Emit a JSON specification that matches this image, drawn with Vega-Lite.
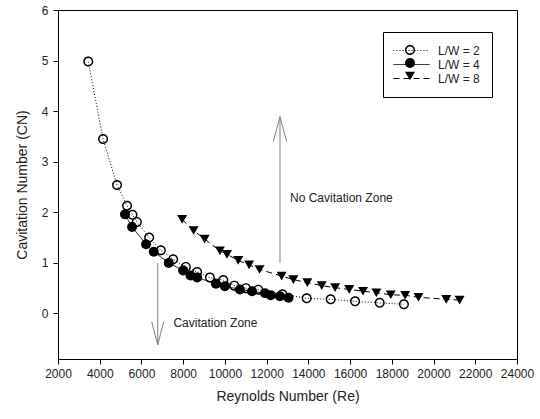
{
  "$schema": "https://vega.github.io/schema/vega-lite/v6.json",
  "width": 459,
  "height": 349,
  "autosize": {"type": "none"},
  "padding": {"left": 58, "top": 10, "right": 23, "bottom": 60},
  "config": {
    "view": {"stroke": "black", "strokeWidth": 1},
    "font": "Liberation Sans",
    "axis": {
      "grid": false,
      "domainColor": "black",
      "tickColor": "black",
      "tickSize": 5,
      "labelFontSize": 12,
      "labelColor": "#222222",
      "titleFontSize": 14,
      "titleFontWeight": "normal",
      "titleColor": "#222222",
      "labelOverlap": false,
      "labelFlush": false
    }
  },
  "datasets": {
    "series": [
      {"Re": 3450, "CN": 4.98, "series": "L/W = 2"},
      {"Re": 4160, "CN": 3.45, "series": "L/W = 2"},
      {"Re": 4830, "CN": 2.54, "series": "L/W = 2"},
      {"Re": 5310, "CN": 2.13, "series": "L/W = 2"},
      {"Re": 5570, "CN": 1.95, "series": "L/W = 2"},
      {"Re": 5780, "CN": 1.81, "series": "L/W = 2"},
      {"Re": 6370, "CN": 1.5, "series": "L/W = 2"},
      {"Re": 6930, "CN": 1.25, "series": "L/W = 2"},
      {"Re": 7520, "CN": 1.07, "series": "L/W = 2"},
      {"Re": 8130, "CN": 0.92, "series": "L/W = 2"},
      {"Re": 8670, "CN": 0.82, "series": "L/W = 2"},
      {"Re": 9280, "CN": 0.71, "series": "L/W = 2"},
      {"Re": 9920, "CN": 0.66, "series": "L/W = 2"},
      {"Re": 10450, "CN": 0.55, "series": "L/W = 2"},
      {"Re": 11010, "CN": 0.5, "series": "L/W = 2"},
      {"Re": 11600, "CN": 0.47, "series": "L/W = 2"},
      {"Re": 12760, "CN": 0.38, "series": "L/W = 2"},
      {"Re": 13920, "CN": 0.3, "series": "L/W = 2"},
      {"Re": 15070, "CN": 0.28, "series": "L/W = 2"},
      {"Re": 16240, "CN": 0.24, "series": "L/W = 2"},
      {"Re": 17420, "CN": 0.21, "series": "L/W = 2"},
      {"Re": 18580, "CN": 0.18, "series": "L/W = 2"},
      {"Re": 5210, "CN": 1.96, "series": "L/W = 4"},
      {"Re": 5550, "CN": 1.71, "series": "L/W = 4"},
      {"Re": 6220, "CN": 1.37, "series": "L/W = 4"},
      {"Re": 6590, "CN": 1.22, "series": "L/W = 4"},
      {"Re": 7310, "CN": 1.0, "series": "L/W = 4"},
      {"Re": 8000, "CN": 0.85, "series": "L/W = 4"},
      {"Re": 8350, "CN": 0.75, "series": "L/W = 4"},
      {"Re": 8670, "CN": 0.71, "series": "L/W = 4"},
      {"Re": 9570, "CN": 0.59, "series": "L/W = 4"},
      {"Re": 10000, "CN": 0.54, "series": "L/W = 4"},
      {"Re": 10720, "CN": 0.475, "series": "L/W = 4"},
      {"Re": 11300, "CN": 0.44, "series": "L/W = 4"},
      {"Re": 11920, "CN": 0.4, "series": "L/W = 4"},
      {"Re": 12200, "CN": 0.36, "series": "L/W = 4"},
      {"Re": 12640, "CN": 0.34, "series": "L/W = 4"},
      {"Re": 13050, "CN": 0.31, "series": "L/W = 4"},
      {"Re": 7950, "CN": 1.86, "series": "L/W = 8"},
      {"Re": 8500, "CN": 1.64, "series": "L/W = 8"},
      {"Re": 9030, "CN": 1.47, "series": "L/W = 8"},
      {"Re": 9760, "CN": 1.24, "series": "L/W = 8"},
      {"Re": 10100, "CN": 1.17, "series": "L/W = 8"},
      {"Re": 10640, "CN": 1.05, "series": "L/W = 8"},
      {"Re": 11160, "CN": 0.96, "series": "L/W = 8"},
      {"Re": 11660, "CN": 0.87, "series": "L/W = 8"},
      {"Re": 12720, "CN": 0.74, "series": "L/W = 8"},
      {"Re": 13280, "CN": 0.67, "series": "L/W = 8"},
      {"Re": 13950, "CN": 0.61, "series": "L/W = 8"},
      {"Re": 14640, "CN": 0.55, "series": "L/W = 8"},
      {"Re": 15280, "CN": 0.51, "series": "L/W = 8"},
      {"Re": 15960, "CN": 0.475, "series": "L/W = 8"},
      {"Re": 16620, "CN": 0.44, "series": "L/W = 8"},
      {"Re": 17260, "CN": 0.41, "series": "L/W = 8"},
      {"Re": 17950, "CN": 0.37, "series": "L/W = 8"},
      {"Re": 18640, "CN": 0.36, "series": "L/W = 8"},
      {"Re": 19280, "CN": 0.32, "series": "L/W = 8"},
      {"Re": 20610, "CN": 0.28, "series": "L/W = 8"},
      {"Re": 21250, "CN": 0.265, "series": "L/W = 8"}
    ],
    "arrows": [
      {"Re": 12640, "CN": 1, "Re2": 12640, "CN2": 3.89},
      {"Re": 12640, "CN": 3.89, "Re2": 12320, "CN2": 3.4},
      {"Re": 12640, "CN": 3.89, "Re2": 12960, "CN2": 3.4},
      {"Re": 6780, "CN": 1, "Re2": 6780, "CN2": -0.62},
      {"Re": 6780, "CN": -0.62, "Re2": 6490, "CN2": -0.16},
      {"Re": 6780, "CN": -0.62, "Re2": 7070, "CN2": -0.16}
    ],
    "notes": [
      {"Re": 13120, "CN": 2.28, "text": "No Cavitation Zone"},
      {"Re": 7530, "CN": -0.19, "text": "Cavitation Zone"}
    ]
  },
  "layer": [
    {
      "mark": {"type": "rule", "color": "black", "strokeWidth": 1},
      "encoding": {
        "y": {"datum": 1, "type": "quantitative", "scale": {"domain": [-0.9, 6], "nice": false, "zero": false}}
      }
    },
    {
      "data": {"name": "arrows"},
      "mark": {"type": "rule", "color": "#808080", "strokeWidth": 1},
      "encoding": {
        "x": {"field": "Re", "type": "quantitative"},
        "y": {"field": "CN", "type": "quantitative"},
        "x2": {"field": "Re2"},
        "y2": {"field": "CN2"}
      }
    },
    {
      "data": {"name": "notes"},
      "mark": {"type": "text", "align": "left", "baseline": "middle", "fontSize": 12, "color": "#222222", "font": "Liberation Sans"},
      "encoding": {
        "x": {"field": "Re", "type": "quantitative"},
        "y": {"field": "CN", "type": "quantitative"},
        "text": {"field": "text"}
      }
    },
    {
      "data": {"name": "series"},
      "mark": {"type": "line", "color": "black", "strokeWidth": 1},
      "encoding": {
        "x": {
          "field": "Re", "type": "quantitative",
          "scale": {"domain": [2000, 24000], "nice": false, "zero": false},
          "axis": {"title": "Reynolds Number (Re)", "values": [2000, 4000, 6000, 8000, 10000, 12000, 14000, 16000, 18000, 20000, 22000, 24000], "format": "d", "labelPadding": 4, "titlePadding": 10}
        },
        "y": {
          "field": "CN", "type": "quantitative",
          "axis": {"title": "Cavitation Number (CN)", "values": [0, 1, 2, 3, 4, 5, 6], "format": "d", "labelPadding": 5, "titlePadding": 12}
        },
        "strokeDash": {
          "field": "series", "type": "nominal",
          "scale": {"range": [[1, 2], [1, 0], [6, 4]]},
          "legend": {
            "orient": "none", "legendX": 325, "legendY": 22, "title": null,
            "symbolType": "M-3,0H3", "symbolSize": 144, "symbolStrokeColor": "black", "symbolStrokeWidth": 1,
            "symbolOffset": 10, "labelOffset": 20, "labelFontSize": 12, "labelColor": "#222222",
            "padding": 12, "rowPadding": 1, "strokeColor": "black", "fillColor": null
          }
        }
      }
    },
    {
      "data": {"name": "series"},
      "mark": {"type": "point", "filled": true, "color": "black", "opacity": 1, "size": 100},
      "encoding": {
        "x": {"field": "Re", "type": "quantitative"},
        "y": {"field": "CN", "type": "quantitative"},
        "shape": {
          "field": "series", "type": "nominal",
          "scale": {
            "domain": ["L/W = 2", "L/W = 4", "L/W = 8"],
            "range": ["M1,0A1,1 0 1,1 -1,0A1,1 0 1,1 1,0Z M0.72,0A0.72,0.72 0 1,0 -0.72,0A0.72,0.72 0 1,0 0.72,0Z", "circle", "triangle-down"]
          },
          "legend": {
            "orient": "none", "legendX": 334, "legendY": 22, "title": null,
            "symbolSize": 100, "symbolFillColor": "black", "symbolStrokeWidth": 0,
            "labelExpr": "' '", "labelFontSize": 12, "padding": 12, "rowPadding": 1, "strokeColor": null
          }
        }
      }
    }
  ]
}
